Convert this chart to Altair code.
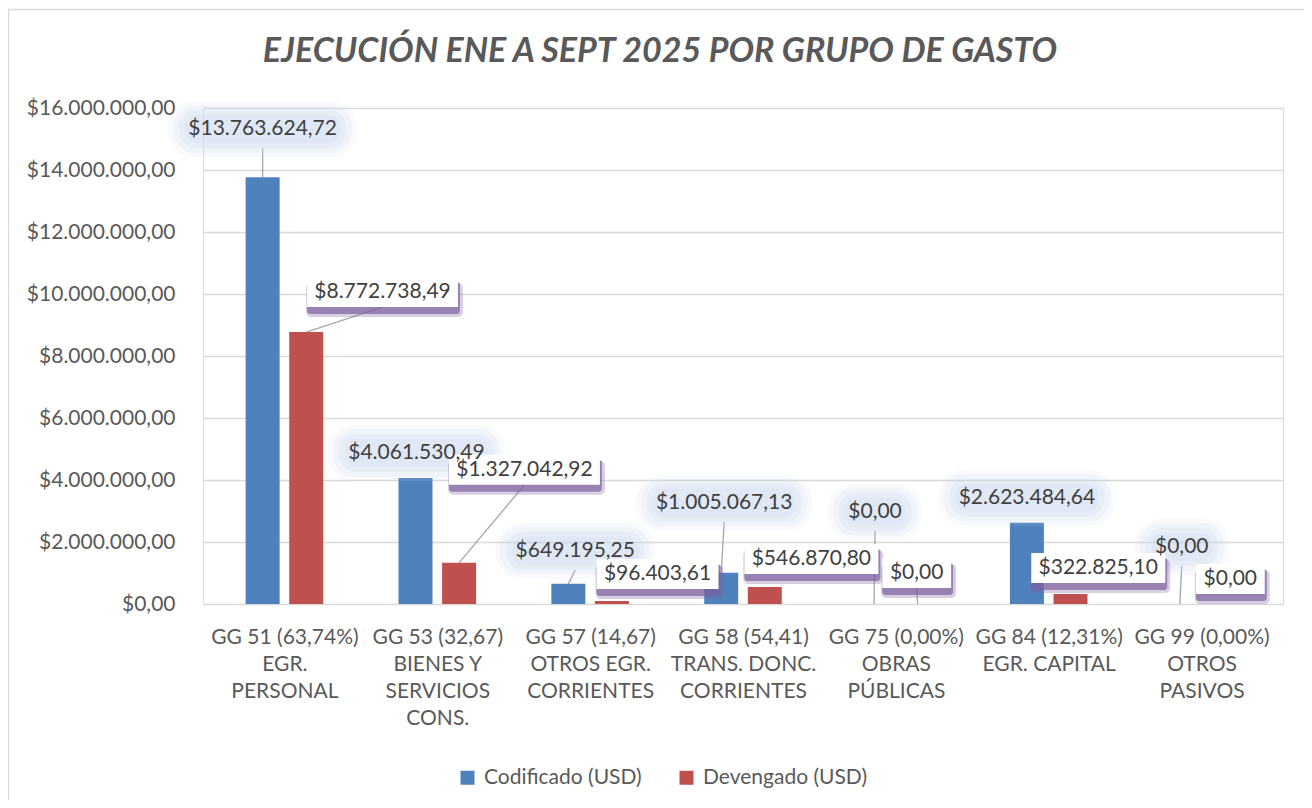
import altair as alt
import pandas as pd

# ---------------- data ----------------
categories = [
    "GG 51 (63,74%)\nEGR.\nPERSONAL",
    "GG 53 (32,67)\nBIENES Y\nSERVICIOS\nCONS.",
    "GG 57 (14,67)\nOTROS EGR.\nCORRIENTES",
    "GG 58 (54,41)\nTRANS. DONC.\nCORRIENTES",
    "GG 75 (0,00%)\nOBRAS\nPÚBLICAS",
    "GG 84 (12,31%)\nEGR. CAPITAL",
    "GG 99 (0,00%)\nOTROS\nPASIVOS",
]
codificado = [13763624.72, 4061530.49, 649195.25, 1005067.13, 0.00, 2623484.64, 0.00]
devengado = [8772738.49, 1327042.92, 96403.61, 546870.80, 0.00, 322825.10, 0.00]
series_names = ["Codificado (USD)", "Devengado (USD)"]
y_ticks = [0, 2e6, 4e6, 6e6, 8e6, 10e6, 12e6, 14e6, 16e6]
title_text = "EJECUCIÓN ENE A SEPT 2025 POR GRUPO DE GASTO"

# ---------------- layout / style ----------------
W, H = 1080, 496
YMAX = 16e6
N = len(categories)
PX_X = W / N          # px per category unit
PX_Y = H / YMAX       # px per USD
BAR_W = 34
BAR_SHIFT = 22
FS = 21
FONT = "Lato"
BLUE, RED = "#4F81BD", "#C0504D"
TXT = "#404040"
AX = "#595959"
GRID = "#D9D9D9"

# callout offsets of the data labels (px, relative to bar top), leader flag
blue_off = [(0, -48, True), (1, -25, False), (7, -33, True), (3, -70, True),
            (1, -92, True), (0, -25, False), (2, -57, True)]
red_off = [(77, -40, True), (66, -93, True), (46, -27, False), (47, -28, False),
           (-1, -31, True), (28, -26, False), (7, -25, False)]


def fmt(v):
    s = f"{v:,.2f}"
    return "$" + s.replace(",", "_").replace(".", ",").replace("_", ".")


def text_w(s):
    return sum(0.58 if (c.isdigit() or c == "$") else 0.23 for c in s) * FS


bars, labels = [], []
for si, (vals, offs) in enumerate([(codificado, blue_off), (devengado, red_off)]):
    sign = -1 if si == 0 else 1
    for i, v in enumerate(vals):
        bx = i + 0.5 + sign * BAR_SHIFT / PX_X
        bars.append({"x": bx, "value": v, "serie": series_names[si]})
        dx, dy, lead = offs[i]
        lx = bx + dx / PX_X
        ly = v - dy / PX_Y
        txt = fmt(v)
        tw = text_w(txt)
        if si == 0:
            bw, bh, lead_gap = tw + 28, 46, 4
        else:
            bw, bh, lead_gap = tw + 16, 30, 0
        labels.append({
            "serie": si, "text": txt, "lx": lx, "ly": ly, "bw": bw, "bh": bh,
            "lead": lead, "bx": bx, "by": v,
            "ly_bottom": ly - (bh / 2 - lead_gap) / PX_Y,
        })

bars_df = pd.DataFrame(bars)
lab_df = pd.DataFrame(labels)


def boxes(serie, grow_w=0, grow_h=0, shift_y=0, shift_x=0):
    rows = []
    for r in labels:
        if r["serie"] != serie:
            continue
        hw = (r["bw"] + grow_w) / 2 / PX_X
        hh = (r["bh"] + grow_h) / 2 / PX_Y
        cy = r["ly"] - shift_y / PX_Y
        cx = r["lx"] + shift_x / PX_X
        rows.append({"x": cx - hw, "x2": cx + hw, "y": cy - hh, "y2": cy + hh})
    return pd.DataFrame(rows)


xs = alt.Scale(domain=[0, N], nice=False, zero=False)
ys = alt.Scale(domain=[0, YMAX], nice=False)

label_expr = "split(" + str([c.replace("\n", "|") for c in categories]) + "[floor(datum.value)], '|')"
y_label_expr = ("replace(replace(replace(format(datum.value, '$,.2f'), regexp(',', 'g'), '_'),"
                " regexp('\\\\.', 'g'), ','), regexp('_', 'g'), '.')")

x_axis = alt.Axis(values=[i + 0.5 for i in range(N)], labelExpr=label_expr, title=None,
                  grid=False, domain=False, ticks=False, labelFontSize=FS, labelColor=AX,
                  labelLineHeight=27, labelPadding=22, labelOverlap=False, labelFont=FONT)
y_axis = alt.Axis(values=y_ticks, labelExpr=y_label_expr, title=None, grid=True,
                  gridColor=GRID, gridWidth=1.3, domain=False, ticks=False,
                  labelFontSize=FS, labelColor=AX, labelPadding=28, labelFont=FONT)

bar_layer = alt.Chart(bars_df).mark_bar(size=BAR_W).encode(
    x=alt.X("x:Q", scale=xs, axis=x_axis),
    y=alt.Y("value:Q", scale=ys, axis=y_axis),
    color=alt.Color("serie:N", scale=alt.Scale(domain=series_names, range=[BLUE, RED]),
                    legend=alt.Legend(orient="none", legendX=254, legendY=659, direction="horizontal",
                                      title=None, symbolType="square", symbolSize=196,
                                      symbolStrokeWidth=0, labelFontSize=FS, labelColor=AX,
                                      labelFont=FONT, columnPadding=34, labelOffset=6,
                                      labelLimit=400)),
)

lead_df = lab_df[lab_df["lead"]]
lead_layer = alt.Chart(lead_df).mark_rule(color="#A6A6A6", strokeWidth=1.3).encode(
    x=alt.X("lx:Q", scale=xs), y=alt.Y("ly_bottom:Q", scale=ys),
    x2="bx:Q", y2="by:Q",
)


def rect_layer(df, **kw):
    return alt.Chart(df).mark_rect(**kw).encode(
        x=alt.X("x:Q", scale=xs), x2="x2:Q", y=alt.Y("y:Q", scale=ys), y2="y2:Q")


GLOW = "#C9D8EE"
glow1 = rect_layer(boxes(0, 14, 10), color=GLOW, opacity=0.12, cornerRadius=26)
glow2 = rect_layer(boxes(0, 4, 2), color=GLOW, opacity=0.18, cornerRadius=22)
glow3 = rect_layer(boxes(0, -8, -8), color=GLOW, opacity=0.22, cornerRadius=17)
glow4 = rect_layer(boxes(0, -20, -18), color=GLOW, opacity=0.22, cornerRadius=12)
shadow1 = rect_layer(boxes(1, 6, 4, 8, 2), color="#7E60A0", opacity=0.3, cornerRadius=5)
shadow2 = rect_layer(boxes(1, 2, 2, 6, 1), color="#7E60A0", opacity=0.7, cornerRadius=3)
white = rect_layer(boxes(1, 0, 0), color="white", opacity=1)

text_layer = alt.Chart(lab_df).mark_text(font=FONT, fontSize=FS, color=TXT, align="center",
                                          baseline="middle").encode(
    x=alt.X("lx:Q", scale=xs), y=alt.Y("ly:Q", scale=ys), text="text:N")

title_layer = alt.Chart(pd.DataFrame({"t": [title_text]})).mark_text(
    font=FONT, fontSize=34, fontStyle="italic", fontWeight="bold", color=AX,
    align="center", baseline="middle").encode(
    text="t:N", x=alt.value(457), y=alt.value(-56))

border = alt.Chart(pd.DataFrame({"k": [0]})).mark_rect(fill=None, stroke=GRID, strokeWidth=1.3).encode(
    x=alt.value(-194.5), x2=alt.value(1107.5), y=alt.value(-98.5), y2=alt.value(800))

chart = alt.layer(
    border, title_layer, bar_layer, lead_layer, glow1, glow2, glow3, glow4,
    shadow1, shadow2, white, text_layer
).properties(
    width=W, height=H,
    autosize=alt.AutoSizeParams(type="none"),
    padding={"left": 195, "top": 100, "right": 21, "bottom": 196},
).configure_view(stroke=None).configure(font=FONT, background="white")

chart.save("out.html", embed_options={"renderer": "svg", "actions": False})
